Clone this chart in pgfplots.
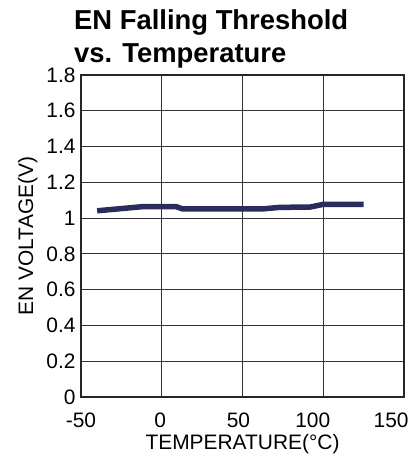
\documentclass[border=0pt]{standalone}
\usepackage{pgfplots}
\pgfplotsset{compat=1.18}
\usepackage{fontspec}
\setmainfont{Liberation Sans}
\definecolor{navy}{RGB}{42,44,92}
\begin{document}
\begin{tikzpicture}
\begin{axis}[
    scale only axis,
    width=323bp, height=322bp,
    xmin=-50, xmax=150,
    ymin=0, ymax=1.8,
    % label positions as printed in the source (slightly left of the grid)
    xtick={-50,-1,47.5,93.5,142},
    xticklabels={-50,0,50,100,150},
    minor xtick={0,50,100},
    ytick={0,0.2,...,1.8},
    yticklabel style={/pgf/number format/fixed,/pgf/number format/precision=1, xshift=-2bp},
    xticklabel style={yshift=-12.5bp},
    /pgf/number format/assume math mode=true,
    tick label style={font=\fontsize{21}{23}\selectfont},
    label style={font=\fontsize{21}{23}\selectfont},
    xlabel={TEMPERATURE(°C)},
    ylabel={EN VOLTAGE(V)},
    xlabel style={yshift=0bp},
    ylabel style={yshift=2bp},
    major tick length=0pt, minor tick length=0pt,
    xmajorgrids=false, xminorgrids=true, ymajorgrids=true,
    major grid style={line width=1.1bp, black!80},
    minor grid style={line width=1.1bp, black!80},
    axis line style={line width=2bp, black!85},
    title={EN Falling Threshold\\vs. Temperature},
    title style={font=\bfseries\fontsize{27.5}{33}\selectfont, align=left, inner sep=0pt,
        anchor=south west, at={(rel axis cs:0,1)}, xshift=-7bp, yshift=1bp},
]
\addplot[navy, line width=5.5bp] coordinates {
    (-40,1.041) (-12,1.064) (9,1.064) (13,1.051) (62,1.051) (73,1.060) (92,1.062) (100,1.077) (125,1.077)
};
\end{axis}
\pgfresetboundingbox
\path ([shift={(-81bp,-62bp)}]current axis.south west) rectangle ([shift={(15bp,75bp)}]current axis.north east);
\end{tikzpicture}
\end{document}
